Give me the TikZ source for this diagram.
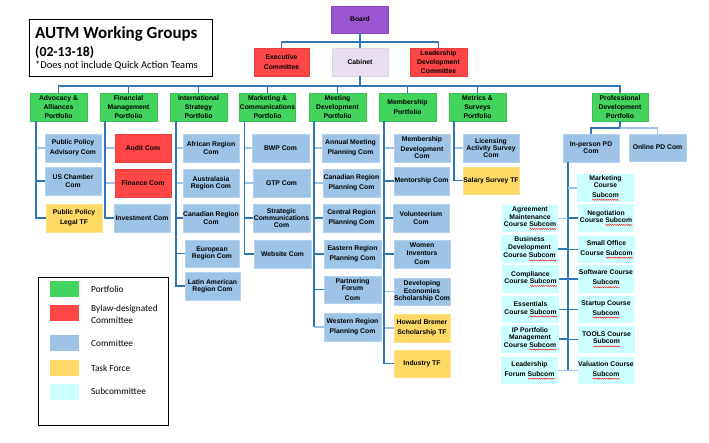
\documentclass[tikz,border=0pt]{standalone}
\usepackage{fontspec}
\setmainfont{Liberation Sans}
\newfontfamily\calibri{Carlito}
\usetikzlibrary{decorations.pathmorphing}
\definecolor{pgreen}{RGB}{66,212,92}
\definecolor{bylawred}{RGB}{255,70,70}
\definecolor{cblue}{RGB}{157,195,230}
\definecolor{tyellow}{RGB}{255,217,102}
\definecolor{scyan}{RGB}{204,255,255}
\definecolor{bpurple}{RGB}{155,87,211}
\definecolor{cablav}{RGB}{232,222,240}
\definecolor{cdark}{RGB}{46,117,182}
\definecolor{clight}{RGB}{157,195,230}
\newcommand\nodefont{\fontsize{6.8}{7.3}\selectfont\bfseries}
\newcommand\sqw[1]{\setbox0\hbox{#1}\rlap{\tikz[baseline=0pt,x=1pt,y=1pt]\draw[draw=red,fill=none,line width=0.4pt,decorate,decoration={snake,amplitude=0.55pt,segment length=2.2pt}] (0,-2.4)--(\the\wd0,-2.4);}\box0}
\begin{document}
\begin{tikzpicture}[x=1pt,y=-1pt,
  box/.style={rectangle, inner sep=0pt, align=center, font=\nodefont, minimum width=56pt, minimum height=28pt, line width=0.4pt},
  port/.style={box, fill=pgreen, draw=pgreen!90!black},
  com/.style={box, fill=cblue, draw=cblue!75!white},
  bylaw/.style={box, fill=bylawred, draw=bylawred!90!black},
  tforce/.style={box, fill=tyellow, draw=tyellow!80!white},
  sub/.style={box, fill=scyan, draw=none},
  conn/.style={draw=cdark, line width=1.2pt},
  connl/.style={draw=clight, line width=1.8pt},
  legtext/.style={anchor=west, inner sep=0pt, align=left, font=\calibri\fontsize{9.3}{12}\selectfont},
  swatch/.style={rectangle, inner sep=0pt, minimum width=29pt, minimum height=16pt}]
\useasboundingbox (0,0) rectangle (709,442);

% title
\node[draw, line width=1.2pt, anchor=north west, minimum width=183pt, minimum height=57pt, inner sep=0pt] (titlebox) at (29,19) {};
\node[anchor=base west, inner sep=0pt, font=\calibri\bfseries\fontsize{17}{20}\selectfont] (title1) at (35,38) {AUTM Working Groups};
\node[anchor=base west, inner sep=0pt, font=\calibri\bfseries\fontsize{13.8}{16}\selectfont] (title2) at (35,56) {(02-13-18)};
\node[anchor=base west, inner sep=0pt, font=\calibri\fontsize{10.5}{12}\selectfont] (title3) at (35,68) {*Does not include Quick Action Teams};

% top
\node[box, fill=bpurple, draw=bpurple!85!black, minimum width=57pt, minimum height=27pt] (board) at (360,19.5) {Board};
\node[box, fill=cablav, draw=cablav!95!black] (cab) at (360,62) {Cabinet};
\node[bylaw, minimum width=55pt] (exec) at (281.5,62) {Executive\\[2.5pt]Committee};
\node[bylaw, minimum width=57pt] (ldc) at (438.5,62) {Leadership\\[2pt]Development\\[2pt]Committee};

% portfolios
\node[port, minimum width=57pt] (adv) at (58.5,107) {Advocacy \&\\[2.3pt]Alliances\\[1.8pt]Portfolio};
\node[port, minimum width=57pt] (fin) at (128.5,107) {Financial\\[2.3pt]Management\\[1.8pt]Portfolio};
\node[port, minimum width=57pt] (intl) at (198.5,107) {International\\[2.3pt]Strategy\\[1.8pt]Portfolio};
\node[port, minimum width=56pt] (mkc) at (267.5,107) {Marketing \&\\[2.3pt]Communications\\[1.8pt]Portfolio};
\node[port, minimum width=57pt] (mtg) at (337.5,107) {Meeting\\[2.3pt]Development\\[1.8pt]Portfolio};
\node[port, minimum width=57pt] (mem) at (407.5,107) {Membership\\[2.3pt]Portfolio};
\node[port, minimum width=57pt] (met) at (477.5,107) {Metrics \&\\[2.3pt]Surveys\\[1.8pt]Portfolio};
\node[port, minimum width=56pt] (prof) at (620,107) {Professional\\[2.3pt]Development\\[1.8pt]Portfolio};

% column 1
\node[com] (ppa) at (73,148) {Public Policy\\[2.5pt]Advisory Com};
\node[com] (usc) at (73,181) {US Chamber\\Com};
\node[tforce] (ppl) at (74,218) {Public Policy\\[2.5pt]Legal TF};
% column 2
\node[bylaw] (aud) at (143,148) {Audit Com};
\node[bylaw] (fnc) at (143,183) {Finance Com};
\node[com] (inv) at (142,218) {Investment Com};
% column 3
\node[com] (afr) at (211,148) {African Region\\Com};
\node[com] (aus) at (211,183) {Australasia\\Region Com};
\node[com] (canr) at (211,218) {Canadian Region\\Com};
\node[com, minimum width=54pt, minimum height=27pt] (eur) at (212,253.5) {European\\Region Com};
\node[com, minimum width=55pt] (lat) at (212.5,286) {Latin American\\Region Com};
% column 4
\node[com, minimum width=57pt] (bwp) at (280.5,148) {BWP Com};
\node[com, minimum width=57pt] (gtp) at (281.5,183) {GTP Com};
\node[com, minimum width=57pt] (stc) at (281.5,218) {Strategic\\Communications\\Com};
\node[com, minimum width=57pt] (web) at (282.5,254) {Website Com};
% column 5
\node[com, minimum width=57pt] (amp) at (350.5,148) {Annual Meeting\\[2.5pt]Planning Com};
\node[com, minimum width=57pt] (crp) at (351.5,183) {Canadian Region\\[2.5pt]Planning Com};
\node[com, minimum width=57pt] (cep) at (351.5,218) {Central Region\\[2.5pt]Planning Com};
\node[com, minimum width=57pt] (erp) at (352.5,254) {Eastern Region\\[2.5pt]Planning Com};
\node[com, minimum width=57pt, minimum height=27pt] (pfc) at (352.5,289.5) {Partnering\\Forum\\[2.5pt]Com};
\node[com, minimum width=57pt] (wrp) at (352.5,327) {Western Region\\[2.5pt]Planning Com};
% column 6
\node[com] (mdc) at (422,148) {Membership\\[2.5pt]Development\\Com};
\node[com, minimum width=55pt] (men) at (421.5,181) {Mentorship Com};
\node[com] (vol) at (421,218) {Volunteerism\\Com};
\node[com] (wic) at (422,254) {Women\\Inventors\\[2.5pt]Com};
\node[com, minimum height=27pt] (des) at (422,291.5) {Developing\\Economies\\Scholarship Com};
\node[tforce] (hbs) at (422,328) {Howard Bremer\\[2.5pt]Scholarship TF};
\node[tforce, minimum height=27pt] (ind) at (422,363.5) {Industry TF};
% column 7
\node[com] (las) at (491,148) {Licensing\\Activity Survey\\Com};
\node[tforce, minimum height=27pt] (sal) at (491,180.5) {Salary Survey TF};
% professional
\node[com] (ipd) at (591,148) {In-person PD\\Com};
\node[com, minimum width=57pt, minimum height=27pt] (opd) at (657.5,147.5) {Online PD Com};
% subcommittees right
\node[sub, minimum width=57pt] (mkt) at (605.5,188) {Marketing\\Course\\[2.5pt]\sqw{Subcom}};
\node[sub] (neg) at (606,218) {Negotiation\\Course \sqw{Subcom}};
\node[sub, minimum width=57pt, minimum height=27pt] (smo) at (606.5,249.5) {Small Office\\[2.5pt]Course \sqw{Subcom}};
\node[sub] (sfw) at (606,279) {Software Course\\[2.5pt]\sqw{Subcom}};
\node[sub, minimum height=27pt] (stu) at (606,309.5) {Startup Course\\[2.5pt]\sqw{Subcom}};
\node[sub, minimum width=57pt, minimum height=27pt] (tls) at (606.5,339.5) {TOOLS Course\\\sqw{Subcom}};
\node[sub, minimum height=27pt] (val) at (606,370.5) {Valuation Course\\[2.5pt]\sqw{Subcom}};
% subcommittees left
\node[sub, minimum height=27pt] (agr) at (530,218.5) {Agreement\\Maintenance\\Course \sqw{Subcom}};
\node[sub, minimum width=57pt] (bdc) at (529.5,249) {Business\\[0.8pt]Development\\[0.8pt]Course \sqw{Subcom}};
\node[sub, minimum width=57pt] (cmp) at (530.5,279) {Compliance\\Course \sqw{Subcom}};
\node[sub, minimum width=57pt, minimum height=27pt] (ess) at (530.5,309.5) {Essentials\\Course \sqw{Subcom}};
\node[sub, minimum width=58pt] (ipm) at (530,339) {IP Portfolio\\Management\\Course \sqw{Subcom}};
\node[sub, minimum width=57pt, minimum height=27pt] (lfs) at (529.5,370.5) {Leadership\\[2.5pt]Forum \sqw{Subcom}};

% top connectors
\coordinate (bj) at (360,42);
\coordinate (cj) at (360,86);
\draw[conn] (board.south) -- (bj);
\draw[conn] (exec.north) |- (bj) -| (ldc.north);
\draw[conn] (bj) -- (cab.north);
\draw[conn] (cab.south) -- (cj);
\draw[conn] (adv.north) |- (cj) -| (prof.north);
\foreach \p in {fin,intl,mkc,mtg,mem,met} \draw[conn] (\p.north) -- (\p.north |- cj);

% spines
\coordinate (s1) at (36,121);
\coordinate (s2) at (105,121);
\coordinate (s3) at (176,121);
\coordinate (s4) at (244.5,121);
\coordinate (s5) at (314,121);
\coordinate (s6) at (384,121);
\coordinate (s7) at (454,121);
\coordinate (s8) at (568,162);
\coordinate (pj) at (620,128);

% column 1
\draw[connl] (s1 |- ppa.west) -- (ppa.west);
\draw[conn] (s1 |- usc.west) -- (usc.west);
\draw[conn] (s1) |- (ppl.west);
% column 2
\draw[connl] (s2 |- aud.west) -- (aud.west);
\draw[connl] (s2 |- fnc.west) -- (fnc.west);
\draw[conn] (s2) |- (inv.west);
% column 3
\draw[connl] (s3 |- afr.west) -- (afr.west);
\draw[connl] (s3 |- aus.west) -- (aus.west);
\draw[conn] (s3 |- canr.west) -- (canr.west);
\draw[conn] (s3 |- eur.west) -- (eur.west);
\draw[conn] (s3) |- (lat.west);
% column 4
\draw[connl] (s4 |- bwp.west) -- (bwp.west);
\draw[connl] (s4 |- gtp.west) -- (gtp.west);
\draw[conn] (s4 |- stc.west) -- (stc.west);
\draw[conn] (s4) |- (web.west);
% column 5
\draw[connl] (s5 |- amp.west) -- (amp.west);
\draw[connl] (s5 |- crp.west) -- (crp.west);
\draw[conn] (s5 |- cep.west) -- (cep.west);
\draw[conn] (s5 |- erp.west) -- (erp.west);
\draw[conn] (s5 |- pfc.west) -- (pfc.west);
\draw[conn] (s5) -- (s5 |- wrp.west);
\draw[connl] (s5 |- wrp.west) -- (wrp.west);
% column 6
\draw[connl] (s6 |- mdc.west) -- (mdc.west);
\draw[conn] (s6 |- men.west) -- (men.west);
\draw[conn] (s6 |- vol.west) -- (vol.west);
\draw[conn] (s6 |- wic.west) -- (wic.west);
\draw[connl] (s6 |- des.west) -- (des.west);
\draw[connl] (s6 |- hbs.west) -- (hbs.west);
\draw[conn] (s6) |- (ind.west);
% column 7
\draw[connl] (s7 |- las.west) -- (las.west);
\draw[conn] (s7) |- (sal.west);
% professional
\draw[conn] (prof.south) -- (pj) -| (ipd.north);
\draw[connl] (pj) -| (opd.north);
\draw[conn] (s8) -- (s8 |- val.west);
\draw[connl] (s8 |- mkt.west) -- (mkt.west);
\draw[conn] (s8 |- neg.west) -- (neg.west);
\draw[conn] (s8 |- smo.west) -- (smo.west);
\draw[conn] (s8 |- sfw.west) -- (sfw.west);
\draw[conn] (s8 |- stu.west) -- (stu.west);
\draw[conn] (s8 |- tls.west) -- (tls.west);
\draw[connl] (s8 |- val.west) -- (val.west);
\draw[connl] (s8 |- agr.east) -- (agr.east);
\draw[conn] (s8 |- bdc.east) -- (bdc.east);
\draw[conn] (s8 |- cmp.east) -- (cmp.east);
\draw[conn] (s8 |- ess.east) -- (ess.east);
\draw[conn] (s8 |- ipm.east) -- (ipm.east);
\draw[connl] (s8 |- lfs.east) -- (lfs.east);

% legend
\node[draw, line width=1.2pt, anchor=north west, minimum width=130pt, minimum height=148pt, inner sep=0pt] (leg) at (38,277) {};
\node[swatch, fill=pgreen] (lg1) at (64.5,289) {};
\node[legtext] (lt1) at (91,289.5) {Portfolio};
\node[swatch, fill=bylawred] (lg2) at (64.5,313) {};
\node[legtext] (lt2) at (91,314.5) {Bylaw-designated\\Committee};
\node[swatch, fill=cblue] (lg3) at (64.5,342.5) {};
\node[legtext] (lt3) at (91,343) {Committee};
\node[swatch, fill=tyellow] (lg4) at (64.5,368) {};
\node[legtext] (lt4) at (91,368) {Task Force};
\node[swatch, fill=scyan] (lg5) at (64.5,391.5) {};
\node[legtext] (lt5) at (91,391) {Subcommittee};
\end{tikzpicture}
\end{document}
